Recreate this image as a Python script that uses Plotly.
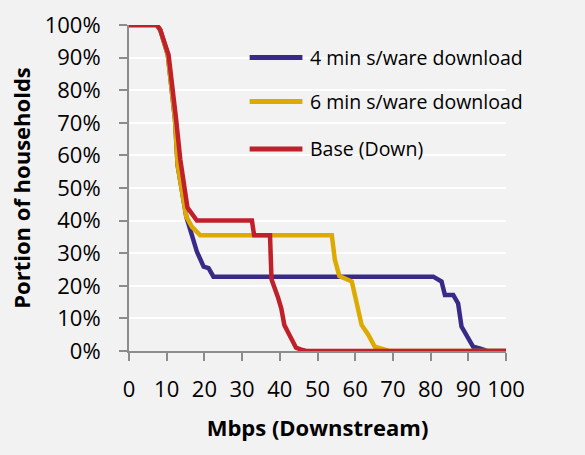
import plotly.graph_objects as go

# ---- data ----
x_4min = [0, 7.4, 8.3, 10.3, 12.2, 12.9, 15.2, 16.7, 18.0, 19.8, 21.1, 22.4,
          80.7, 82.9, 83.8, 86.0, 87.3, 88.2, 89.9, 91.3, 93.0, 95.0, 100]
y_4min = [100, 100, 98.5, 90.8, 71, 57, 41.2, 36, 30.5, 25.9, 25.4, 22.8,
          22.8, 21.3, 17.2, 17.2, 14.6, 7.5, 3.9, 1.3, 0.8, 0, 0]

x_6min = [0, 7.4, 8.3, 10.3, 12.2, 12.9, 15.2, 16.7, 18.9, 53.8, 54.6, 55.8,
          58.2, 59.1, 61.7, 63.5, 65.2, 67.4, 69.0, 100]
y_6min = [100, 100, 98.5, 90.8, 71, 57, 41.2, 38.1, 35.5, 35.5, 28, 23,
          21.8, 21.3, 8, 4.9, 1.3, 0.6, 0, 0]

x_base = [0, 7.4, 8.3, 10.5, 12.5, 13.6, 15.5, 18.0, 32.6, 33.2, 37.4, 37.8,
          39.5, 40.4, 41.2, 43.0, 44.3, 46.0, 47.0, 100]
y_base = [100, 100, 98.5, 90.8, 71, 58.8, 44, 40, 40, 35.5, 35.5, 22,
          16.5, 13, 8, 3.5, 1, 0.3, 0, 0]

names = ["4 min s/ware download", "6 min s/ware download", "Base (Down)"]
colors = ["#3a2a88", "#dcaa00", "#c0202a"]

x_ticks = list(range(0, 101, 10))
y_ticks = list(range(0, 101, 10))

BG = "#f2f2f2"
AX = "#8c8c8c"
FONT = "Open Sans"

fig = go.Figure()
for xs, ys, nm, c in zip([x_4min, x_6min, x_base], [y_4min, y_6min, y_base], names, colors):
    fig.add_trace(go.Scatter(x=xs, y=ys, mode="lines", name=nm,
                             line=dict(color=c, width=4.5), cliponaxis=False,
                             showlegend=False))

# manual legend (Excel style: long line samples)
leg_rows = [0.9, 0.765, 0.62]
shapes = [dict(type="rect", xref="paper", yref="paper", x0=0.46, x1=1.0,
               y0=0.88, y1=0.92, fillcolor=BG, line=dict(width=0), layer="between")]
annotations = []
for yr, nm, c in zip(leg_rows, names, colors):
    shapes.append(dict(type="line", xref="paper", yref="paper", x0=0.32, x1=0.46,
                       y0=yr, y1=yr, line=dict(color=c, width=5), layer="above"))
    annotations.append(dict(xref="paper", yref="paper", x=0.475, y=yr, xanchor="left",
                            yanchor="middle", text=nm, showarrow=False,
                            font=dict(family=FONT, size=19.5, color="#000000")))

fig.update_layout(
    width=585, height=455,
    margin=dict(l=129, r=79, t=25, b=104),
    paper_bgcolor=BG, plot_bgcolor=BG,
    font=dict(family=FONT, color="#000000"),
    shapes=shapes, annotations=annotations,
    showlegend=False,
)
fig.update_xaxes(
    range=[0, 100], tickvals=x_ticks, ticktext=[str(v) for v in x_ticks],
    showgrid=False, zeroline=False, showline=True, linecolor=AX, linewidth=2,
    ticks="outside", ticklen=8, tickwidth=2, tickcolor=AX, automargin=False,
    tickfont=dict(family=FONT, size=22), ticklabelstandoff=10,
    title=dict(text="<b>Mbps (Downstream)</b>", font=dict(family=FONT, size=22), standoff=18),
)
fig.update_yaxes(
    range=[0, 100], tickvals=y_ticks, ticktext=[f"{v}%" for v in y_ticks],
    showgrid=True, gridcolor="#ffffff", gridwidth=2, zeroline=False,
    showline=True, linecolor=AX, linewidth=2, automargin=False,
    ticks="outside", ticklen=8, tickwidth=2, tickcolor=AX,
    tickfont=dict(family=FONT, size=22), ticklabelstandoff=14,
    title=dict(text="<b>Portion of households</b>", font=dict(family=FONT, size=22), standoff=8),
)

fig.write_html("out.html", config={"displayModeBar": False},
               post_script="document.body.style.margin='0';document.body.style.background='#f2f2f2';")
